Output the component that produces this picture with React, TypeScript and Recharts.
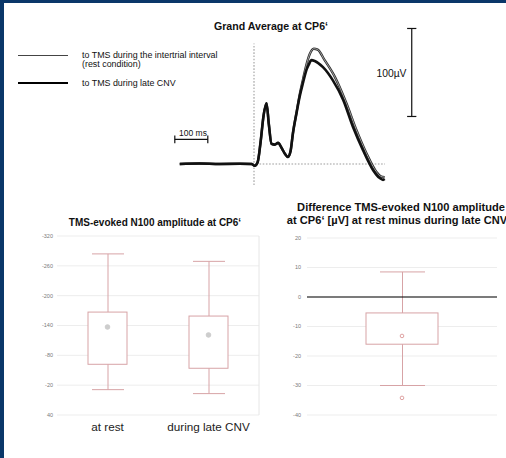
import {
  Bar,
  CartesianGrid,
  ComposedChart,
  Line,
  LineChart,
  ReferenceArea,
  ReferenceLine,
  XAxis,
  YAxis,
} from "recharts";

// ---- grand average waveforms (t in ms after TMS, amplitude in µV) ----
const REST_T = [-225, -165, -104, -43, -7, 2, 11, 20, 29, 38, 45, 53, 63, 73, 84, 93, 103, 111, 118, 129, 138, 149, 159, 169, 181, 193, 214, 245, 280, 310, 341, 371, 384, 396];
const REST_UV = [0, 0.5, 0, 0.3, 0, -2, 2, 25, 55, 69, 45, 23, 22, 24, 18, 12, 8, 15, 35, 59, 78, 97, 113, 125, 131, 130, 118, 99, 69, 39, 12, -9, -14, -15];
const CNV_T = [-225, -165, -104, -43, -7, 2, 11, 20, 29, 38, 45, 53, 63, 73, 84, 93, 103, 111, 118, 129, 138, 149, 159, 166, 174, 184, 209, 239, 270, 300, 330, 361, 381, 391, 396];
const CNV_UV = [0, 0.5, 0, 0.3, 0, -2, 2, 25, 55, 69, 45, 23, 22, 24, 18, 12, 8, 15, 35, 58, 76, 93, 107, 113, 118, 117, 110, 95, 73, 42, 16, -7, -16, -18, -17];

// scale bars
const MS_BAR = [-240, -140];
const MS_BAR_LEVEL = 28;
const UV_BAR = [54, 154];
const UV_BAR_TIME = 478;

// ---- N100 amplitude box plot ----
const CATEGORIES = ["at rest", "during late CNV"];
const WHISKER_TOP = [-284, -269];
const BOX_TOP = [-167, -159];
const BOX_BOTTOM = [-62, -54];
const WHISKER_BOTTOM = [-11, -3];
const MEANS = [-137, -121];
const AMP_TICKS = [-320, -260, -200, -140, -80, -20, 40];

// ---- difference box plot ----
const DIFF_WHISKER = [8.5, -30];
const DIFF_BOX = [-5.4, -16];
const DIFF_MEAN = -13.2;
const DIFF_OUTLIER = -34.2;
const DIFF_TICKS = [-40, -30, -20, -10, 0, 10, 20];

const FONT = '"Liberation Sans", Arial, Helvetica, sans-serif';
const NAVY = "#0a3769";
const BOX_RED = "#d7a3a6";

const restSeries = REST_T.map((t, i) => ({ t, v: REST_UV[i] }));
const cnvSeries = CNV_T.map((t, i) => ({ t, v: CNV_UV[i] }));

const ampData = CATEGORIES.map((name, i) => ({
  name,
  box: [BOX_TOP[i], BOX_BOTTOM[i]],
  range: [WHISKER_TOP[i], WHISKER_BOTTOM[i]],
  mean: MEANS[i],
}));

const diffData = [
  {
    name: "diff",
    box: DIFF_BOX,
    range: DIFF_WHISKER,
    mean: DIFF_MEAN,
    outlier: DIFF_OUTLIER,
  },
];

export default function App() {
  return (
    <div
      style={{
        position: "absolute",
        left: 0,
        top: 0,
        width: 506,
        height: 458,
        background: "#fff",
        overflow: "hidden",
        fontFamily: FONT,
        color: "#111",
      }}
    >
      <div style={{ position: "absolute", left: 0, top: 0, width: 4, height: 458, background: NAVY }} />
      <div style={{ position: "absolute", left: 0, top: 0, width: 506, height: 3, background: NAVY }} />

      <Text x={271} y={26.7} size={10.6} bold center>
        Grand Average at CP6‘
      </Text>

      {/* legend */}
      <div style={{ position: "absolute", left: 18, top: 55, width: 50, height: 1, background: "#444" }} />
      <div style={{ position: "absolute", left: 18, top: 81.5, width: 50, height: 2.5, background: "#000" }} />
      <Text x={82} y={55.3} size={8.9}>to TMS during the intertrial interval</Text>
      <Text x={82} y={64.5} size={8.9}>(rest condition)</Text>
      <Text x={82} y={83.3} size={8.9}>to TMS during late CNV</Text>

      <Text x={193} y={132.7} size={8.5} center>100 ms</Text>
      <Text x={391.5} y={74} size={10.3} center>100µV</Text>

      <div style={{ position: "absolute", left: 155, top: 10 }}>
        <GrandAverage />
      </div>

      <Text x={155} y={222.7} size={10} bold center>
        TMS-evoked N100 amplitude at CP6‘
      </Text>
      <div style={{ position: "absolute", left: 0, top: 226 }}>
        <AmplitudeBox />
      </div>

      <Text x={401} y={207.3} size={11.1} bold center>
        Difference TMS-evoked N100 amplitude
      </Text>
      <Text x={397} y={220.7} size={11.1} bold center>
        at CP6‘ [µV] at rest minus during late CNV
      </Text>
      <div style={{ position: "absolute", left: 250, top: 226 }}>
        <DifferenceBox />
      </div>
    </div>
  );
}

function Text({
  x,
  y,
  size,
  bold,
  center,
  children,
}: {
  x: number;
  y: number;
  size: number;
  bold?: boolean;
  center?: boolean;
  children: React.ReactNode;
}) {
  const lh = size * 1.2;
  return (
    <div
      style={{
        position: "absolute",
        left: x,
        top: y - lh / 2,
        fontSize: size,
        lineHeight: `${lh}px`,
        fontWeight: bold ? 700 : 400,
        whiteSpace: "nowrap",
        transform: center ? "translateX(-50%)" : undefined,
      }}
    >
      {children}
    </div>
  );
}

function GrandAverage() {
  const dotted = { stroke: "#bdbdbd", strokeWidth: 1.6, strokeDasharray: "1.6 1.6" };
  const bar = { stroke: "#111", strokeWidth: 1.2 };
  return (
    <LineChart width={264} height={198} margin={{ top: 0, right: 0, bottom: 0, left: 0 }}>
      <XAxis type="number" dataKey="t" domain={[-300, 500]} allowDataOverflow hide />
      <YAxis type="number" domain={[-50, 175]} allowDataOverflow hide />
      <ReferenceLine segment={[{ x: 0, y: -24 }, { x: 0, y: 137 }]} {...dotted} />
      <ReferenceLine segment={[{ x: 7, y: 0 }, { x: 397, y: 0 }]} {...dotted} />

      {/* 100 ms bar */}
      <ReferenceLine segment={[{ x: MS_BAR[0], y: MS_BAR_LEVEL }, { x: MS_BAR[1], y: MS_BAR_LEVEL }]} {...bar} />
      <ReferenceLine segment={[{ x: MS_BAR[0], y: MS_BAR_LEVEL - 4.5 }, { x: MS_BAR[0], y: MS_BAR_LEVEL + 4.5 }]} {...bar} />
      <ReferenceLine segment={[{ x: MS_BAR[1], y: MS_BAR_LEVEL - 4.5 }, { x: MS_BAR[1], y: MS_BAR_LEVEL + 4.5 }]} {...bar} />

      {/* 100 µV bar */}
      <ReferenceLine segment={[{ x: UV_BAR_TIME, y: UV_BAR[0] }, { x: UV_BAR_TIME, y: UV_BAR[1] }]} {...bar} />
      <ReferenceLine segment={[{ x: UV_BAR_TIME - 14, y: UV_BAR[0] }, { x: UV_BAR_TIME + 14, y: UV_BAR[0] }]} {...bar} />
      <ReferenceLine segment={[{ x: UV_BAR_TIME - 14, y: UV_BAR[1] }, { x: UV_BAR_TIME + 14, y: UV_BAR[1] }]} {...bar} />

      <Line data={restSeries} dataKey="v" type="monotone" stroke="#2b2b2b" strokeWidth={2.4} dot={false} isAnimationActive={false} />
      <Line data={restSeries} dataKey="v" type="monotone" stroke="#bcbcbc" strokeWidth={0.8} dot={false} isAnimationActive={false} />
      <Line data={cnvSeries} dataKey="v" type="monotone" stroke="#111" strokeWidth={2.6} dot={false} isAnimationActive={false} />
    </LineChart>
  );
}

function BoxShape(props: any) {
  const { x, y, width, height } = props;
  const top = Math.min(y, y + height);
  return (
    <rect x={x} y={top} width={width} height={Math.abs(height)} fill="#fff" stroke={BOX_RED} strokeWidth={1} />
  );
}

function WhiskerShape(props: any) {
  const { x, y, width, height } = props;
  const top = Math.min(y, y + height);
  const bottom = Math.max(y, y + height);
  const cx = x + width / 2;
  return (
    <g stroke={BOX_RED} strokeWidth={1}>
      <line x1={cx} x2={cx} y1={top} y2={bottom} />
      <line x1={x} x2={x + width} y1={top} y2={top} />
      <line x1={x} x2={x + width} y1={bottom} y2={bottom} />
    </g>
  );
}

const tickStyle = { fill: "#7a7a7a", fontSize: 5.5, fontFamily: FONT };

function AmplitudeBox() {
  return (
    <ComposedChart width={265} height={220} data={ampData} margin={{ top: 10, right: 6, bottom: 0, left: 0 }}>
      <CartesianGrid vertical={false} stroke="#ededed" />
      <XAxis dataKey="name" axisLine={false} tickLine={false} height={31} tick={{ fill: "#222", fontSize: 11.7, fontFamily: FONT }} />
      <XAxis xAxisId="w" dataKey="name" hide />
      <XAxis xAxisId="g" type="number" domain={[0, 2]} allowDataOverflow hide />
      <YAxis
        reversed
        domain={[-320, 40]}
        ticks={AMP_TICKS}
        interval={0}
        width={57}
        axisLine={false}
        tickLine={false}
        tickSize={4}
        tickMargin={0}
        tick={tickStyle}
      />
      <ReferenceLine xAxisId="g" x={1} stroke="#e6e6e6" />
      <ReferenceArea xAxisId="g" x1={0} x2={2} y1={-320} y2={40} stroke="#c6c6c6" strokeWidth={1.5} fill="none" />
      <Bar xAxisId="w" dataKey="range" barSize={32} shape={WhiskerShape} isAnimationActive={false} />
      <Bar dataKey="box" barSize={39} shape={BoxShape} isAnimationActive={false} />
      <Line dataKey="mean" stroke="none" dot={{ r: 2.3, fill: "#cdcdcd", stroke: "#cdcdcd" }} activeDot={false} isAnimationActive={false} />
    </ComposedChart>
  );
}

function DifferenceBox() {
  return (
    <ComposedChart width={253} height={220} data={diffData} margin={{ top: 12, right: 6, bottom: 31, left: 0 }}>
      <CartesianGrid vertical={false} stroke="#ededed" />
      <XAxis dataKey="name" hide />
      <XAxis xAxisId="w" dataKey="name" hide />
      <XAxis xAxisId="g" type="number" domain={[0, 1]} allowDataOverflow hide />
      <YAxis
        domain={[-40, 20]}
        ticks={DIFF_TICKS}
        interval={0}
        width={57}
        axisLine={false}
        tickLine={false}
        tickSize={4}
        tickMargin={2}
        tick={tickStyle}
      />
      <ReferenceArea xAxisId="g" x1={0} x2={1} y1={-40} y2={20} stroke="#c6c6c6" strokeWidth={1.5} fill="none" />
      <Bar xAxisId="w" dataKey="range" barSize={45} shape={WhiskerShape} isAnimationActive={false} />
      <Bar dataKey="box" barSize={72} shape={BoxShape} isAnimationActive={false} />
      <ReferenceLine y={0} stroke="#000" strokeWidth={1.2} />
      <Line dataKey="mean" stroke="none" dot={{ r: 1.8, fill: "none", stroke: "#d58a8a", strokeWidth: 0.8 }} activeDot={false} isAnimationActive={false} />
      <Line dataKey="outlier" stroke="none" dot={{ r: 1.8, fill: "none", stroke: "#d58a8a", strokeWidth: 0.8 }} activeDot={false} isAnimationActive={false} />
    </ComposedChart>
  );
}
